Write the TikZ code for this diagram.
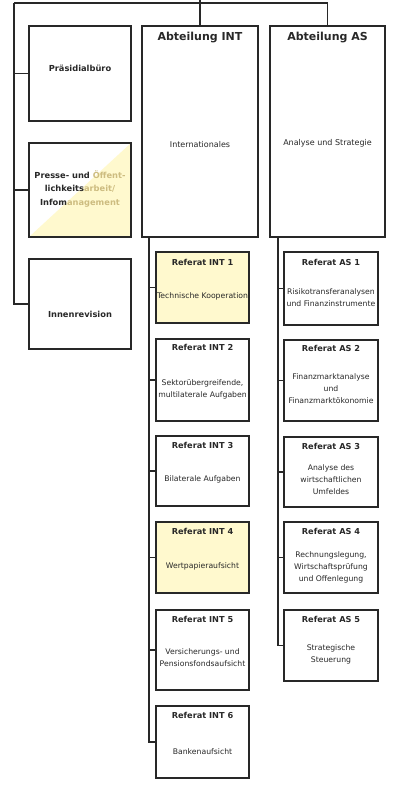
\documentclass[tikz,border=0pt]{standalone}
\usepackage{fontspec}
\setmainfont{DejaVu Sans}
\definecolor{lineg}{RGB}{40,40,40}
\definecolor{refyellow}{RGB}{255,249,206}
\definecolor{pressetan}{RGB}{205,188,128}
\tikzset{
  box/.style={draw=lineg, line width=1.4pt, rectangle, inner sep=0pt, fill=white},
  abtbox/.style={box, minimum width=116pt, minimum height=211pt},
  stabbox/.style={box, minimum width=102pt},
  refbox/.style={box, minimum width=93pt},
  hilite/.style={fill=refyellow},
  conn/.style={draw=lineg, line width=1.4pt},
  abttitle/.style={font=\fontsize{11}{13}\selectfont\bfseries, text=lineg},
  abtsub/.style={font=\fontsize{8}{10}\selectfont, text=lineg},
  reftitle/.style={font=\fontsize{8.2}{10}\selectfont\bfseries, text=lineg},
  refdesc/.style={font=\fontsize{7.7}{12}\selectfont, text=lineg, align=center, inner sep=0pt},
  stabtext/.style={font=\fontsize{8.3}{13.5}\selectfont\bfseries, text=lineg, align=center, inner sep=0pt}
}
\begin{document}
\begin{tikzpicture}[x=1pt,y=-1pt]
  \useasboundingbox (0,0) rectangle (394,786);

  % Stabsstellen
  \node[stabbox, minimum height=95pt] (praes) at (80,73.5) {};
  \node[stabbox, minimum height=94pt, path picture={
      \fill[refyellow] (path picture bounding box.south west) -- (path picture bounding box.south east)
        -- (path picture bounding box.north east) -- cycle;}] (presse) at (80,190) {};
  \node[stabbox, minimum height=90pt] (innen) at (80,304) {};
  \node[stabtext] (praest) at (80,68) {Präsidialbüro};
  \node[stabtext] (presset) at (80,189) {Presse- und \textcolor{pressetan}{Öffent-}\\lichkeits\textcolor{pressetan}{arbeit/}\\Infom\textcolor{pressetan}{anagement}};
  \node[stabtext] (innent) at (80,314) {Innenrevision};

  % Abteilungen
  \node[abtbox] (abtint) at (200,131.5) {};
  \node[abtbox, minimum width=115pt] (abtas) at (327.5,131.5) {};
  \node[abttitle] (abtintt) at ([yshift=-12.5pt]abtint.north) {Abteilung INT};
  \node[abttitle] (abtast) at ([yshift=-12.5pt]abtas.north) {Abteilung AS};
  \node[abtsub] (abtints) at ([yshift=-119pt]abtint.north) {Internationales};
  \node[abtsub] (abtass) at ([yshift=-118pt]abtas.north) {Analyse und Strategie};

  % Referate INT
  \node[refbox, hilite, minimum height=71pt] (int1) at (202.5,287.5) {};
  \node[refbox, minimum height=82pt] (int2) at (202.5,380) {};
  \node[refbox, minimum height=70pt] (int3) at (202.5,471) {};
  \node[refbox, hilite, minimum height=71pt] (int4) at (202.5,557.5) {};
  \node[refbox, minimum height=80pt] (int5) at (202.5,650) {};
  \node[refbox, minimum height=72pt] (int6) at (202.5,742) {};
  \node[reftitle] (int1t) at ([yshift=-11pt]int1.north) {Referat INT 1};
  \node[reftitle] (int2t) at ([yshift=-9pt]int2.north) {Referat INT 2};
  \node[reftitle] (int3t) at ([yshift=-10pt]int3.north) {Referat INT 3};
  \node[reftitle] (int4t) at ([yshift=-10pt]int4.north) {Referat INT 4};
  \node[reftitle] (int5t) at ([yshift=-10pt]int5.north) {Referat INT 5};
  \node[reftitle] (int6t) at ([yshift=-10pt]int6.north) {Referat INT 6};
  \node[refdesc] (int1d) at ([yshift=-8.5pt]int1.center) {Technische Kooperation};
  \node[refdesc] (int2d) at ([yshift=-9pt]int2.center) {Sektorübergreifende,\\multilaterale Aufgaben};
  \node[refdesc] (int3d) at ([yshift=-8pt]int3.center) {Bilaterale Aufgaben};
  \node[refdesc] (int4d) at ([yshift=-9pt]int4.center) {Wertpapieraufsicht};
  \node[refdesc] (int5d) at ([yshift=-8pt]int5.center) {Versicherungs- und\\Pensionsfondsaufsicht};
  \node[refdesc] (int6d) at ([yshift=-10pt]int6.center) {Bankenaufsicht};

  % Referate AS
  \node[refbox, minimum width=94pt, minimum height=73pt] (as1) at (331,288.5) {};
  \node[refbox, minimum width=94pt, minimum height=81pt] (as2) at (331,380.5) {};
  \node[refbox, minimum width=94pt, minimum height=70pt] (as3) at (331,472) {};
  \node[refbox, minimum width=94pt, minimum height=71pt] (as4) at (331,557.5) {};
  \node[refbox, minimum width=94pt, minimum height=71pt] (as5) at (331,645.5) {};
  \node[reftitle] (as1t) at ([yshift=-11pt]as1.north) {Referat AS 1};
  \node[reftitle] (as2t) at ([yshift=-9pt]as2.north) {Referat AS 2};
  \node[reftitle] (as3t) at ([yshift=-10pt]as3.north) {Referat AS 3};
  \node[reftitle] (as4t) at ([yshift=-10pt]as4.north) {Referat AS 4};
  \node[reftitle] (as5t) at ([yshift=-10pt]as5.north) {Referat AS 5};
  \node[refdesc] (as1d) at ([yshift=-9pt]as1.center) {Risikotransferanalysen\\und Finanzinstrumente};
  \node[refdesc] (as2d) at ([yshift=-8.5pt]as2.center) {Finanzmarktanalyse\\und\\Finanzmarktökonomie};
  \node[refdesc] (as3d) at ([yshift=-8pt]as3.center) {Analyse des\\wirtschaftlichen\\Umfeldes};
  \node[refdesc] (as4d) at ([yshift=-9.5pt]as4.center) {Rechnungslegung,\\Wirtschaftsprüfung\\und Offenlegung};
  \node[refdesc] (as5d) at ([yshift=-8.5pt]as5.center) {Strategische\\Steuerung};

  % Verbindungen
  \coordinate (trunk) at (200,0);
  \coordinate (barl) at (14,3);
  \coordinate (intsp) at (149,237);
  \coordinate (assp) at (278,237);
  \draw[conn] (trunk) -- (abtint.north);
  \draw[conn] (barl) -| (abtas.north);
  \draw[conn] (barl) |- (innen.west);
  \draw[conn] (barl |- praes.west) -- (praes.west);
  \draw[conn] (barl |- presse.west) -- (presse.west);

  \draw[conn] (intsp) |- (int6.west);
  \draw[conn] (intsp |- int1.west) -- (int1.west);
  \draw[conn] (intsp |- int2.west) -- (int2.west);
  \draw[conn] (intsp |- int3.west) -- (int3.west);
  \draw[conn] (intsp |- int4.west) -- (int4.west);
  \draw[conn] (intsp |- int5.west) -- (int5.west);

  \draw[conn] (assp) |- (as5.west);
  \draw[conn] (assp |- as1.west) -- (as1.west);
  \draw[conn] (assp |- as2.west) -- (as2.west);
  \draw[conn] (assp |- as3.west) -- (as3.west);
  \draw[conn] (assp |- as4.west) -- (as4.west);
\end{tikzpicture}
\end{document}
